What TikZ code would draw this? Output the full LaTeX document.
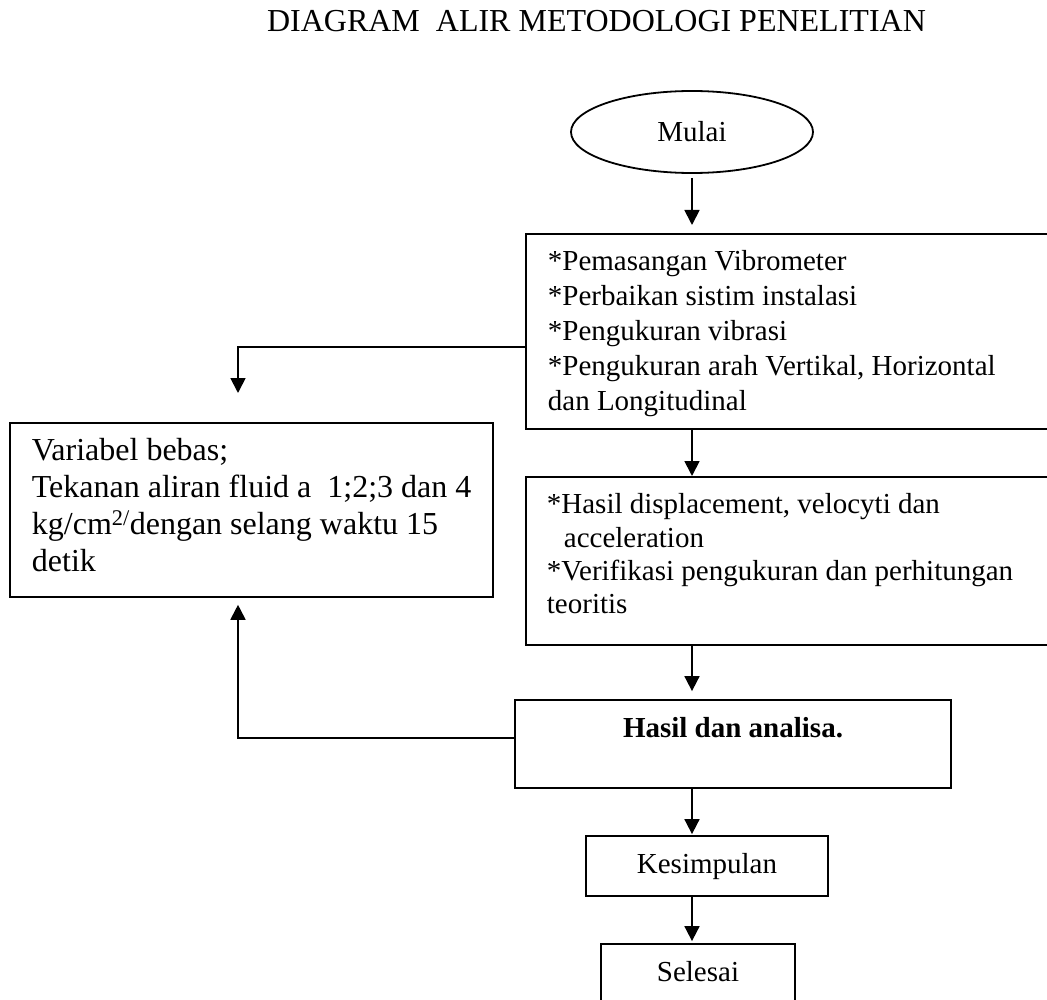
\documentclass[tikz,border=0pt]{standalone}
\usepackage{fontspec}
\setmainfont{Liberation Serif}
\usetikzlibrary{shapes.geometric,arrows.meta}
\tikzset{
  boxline/.style={draw=black, line width=1.8pt},
  textbox/.style={boxline, anchor=north west, inner sep=0pt},
  simplebox/.style={boxline, inner sep=0pt, text height=20pt, text depth=6pt,
    font=\fontsize{29}{35}\selectfont},
  arr/.style={line width=1.8pt, -{Triangle[length=15pt,width=15pt]}},
}
\begin{document}
\begin{tikzpicture}[x=1pt,y=-1pt]
\useasboundingbox (0,0) rectangle (1047,1000);
\fill[white] (0,0) rectangle (1047,1000);
\clip (0,0) rectangle (1047,1000);

% title
\node[anchor=base, inner sep=0pt, font=\fontsize{32}{38}\selectfont] (title) at (596.5,32)
  {DIAGRAM\ \ ALIR METODOLOGI PENELITIAN};

% start
\node[ellipse, boxline, minimum width=242pt, minimum height=82pt, inner sep=0pt,
  font=\fontsize{29}{35}\selectfont] (ell) at (692,132) {Mulai};

% box 1
\node[textbox] (b1) at (525,233) {\parbox[t][195pt][t]{560pt}{\fontsize{29}{35}\selectfont
  \leftskip=22pt\rule{0pt}{37pt}*Pemasangan Vibrometer\\{}%
  *Perbaikan sistim instalasi\\{}%
  *Pengukuran vibrasi\\{}%
  *Pengukuran arah Vertikal, Horizontal\\{}%
  dan Longitudinal}};

% variabel box
\node[textbox] (bv) at (9,422) {\parbox[t][174pt][t]{483pt}{\fontsize{32}{36.7}\selectfont
  \leftskip=22pt\rule{0pt}{38pt}Variabel bebas;\\{}%
  Tekanan aliran fluid a\ \ 1;2;3 dan 4\\{}%
  kg/cm\textsuperscript{2/}dengan selang waktu 15\\{}%
  detik}};

% box 2
\node[textbox] (b2) at (525,476) {\parbox[t][168pt][t]{560pt}{\fontsize{29}{33.3}\selectfont
  \leftskip=21pt\rule{0pt}{37pt}*Hasil displacement, velocyti dan\\{}%
  \hspace*{17pt}acceleration\\{}%
  *Verifikasi pengukuran dan perhitungan\\{}%
  teoritis}};

% hasil
\node[boxline, inner sep=0pt, minimum width=436pt, minimum height=88pt,
  text height=20pt, text depth=34pt, font=\fontsize{29}{35}\selectfont\bfseries]
  (bh) at (733,744) {Hasil dan analisa.};

% kesimpulan
\node[simplebox, minimum width=242pt, minimum height=60pt] (bk) at (707,866) {Kesimpulan};

% selesai
\node[simplebox, minimum width=194pt, minimum height=60pt] (bs) at (698,974) {Selesai};

% corner coordinates
\coordinate (k1) at (238,347);
\coordinate (k2) at (238,738);

% connectors
\draw[arr, shorten <=4pt, shorten >=8pt] (ell.south) -- (ell.south |- b1.north);
\draw[arr, shorten >=29pt] (b1.west |- k1) -- (k1) -- (k1 |- bv.north);
\draw[arr] (ell.south |- b1.south) -- (ell.south |- b2.north);
\draw[arr, shorten >=8pt] (ell.south |- b2.south) -- (ell.south |- bh.north);
\draw[arr, shorten >=7pt] (bh.west |- k2) -- (k2) -- (k2 |- bv.south);
\draw[arr, shorten >=1pt] (ell.south |- bh.south) -- (ell.south |- bk.north);
\draw[arr, shorten >=2pt] (ell.south |- bk.south) -- (ell.south |- bs.north);
\end{tikzpicture}
\end{document}
